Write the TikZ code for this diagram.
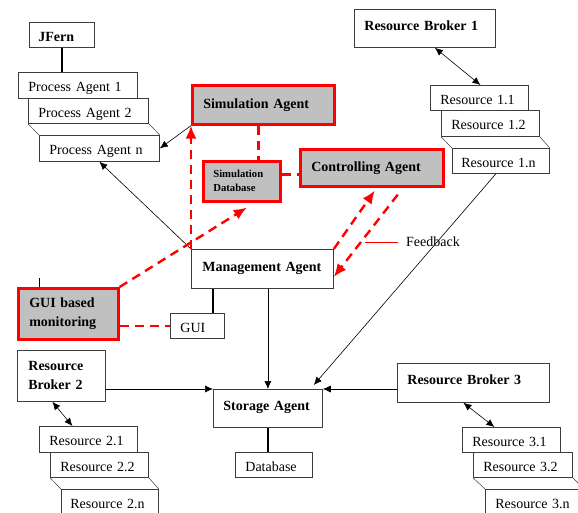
\documentclass[tikz,border=0pt]{standalone}
\usepackage{fontspec}
\setmainfont{Liberation Serif}
\usetikzlibrary{arrows.meta}
\definecolor{boxgray}{RGB}{192,192,192}
\definecolor{edgec}{RGB}{60,60,60}
\begin{document}
\begin{tikzpicture}[x=1pt,y=-1pt,
 bx/.style={draw=edgec, line width=0.8pt, anchor=north west, align=left, inner ysep=0pt, font=\fontsize{14}{16}\selectfont},
 low/.style={text height=15.5pt, text depth=3pt},
 up/.style={text height=9.5pt, text depth=6pt},
 bbx/.style={bx, font=\fontsize{14}{19}\selectfont\bfseries},
 rbx/.style={bbx, draw=red, fill=boxgray, line width=2.6pt},
 conn/.style={draw=black, line width=0.6pt},
 arr/.style={conn, -{Latex[length=8pt,width=7pt]}},
 darr/.style={conn, {Latex[length=8pt,width=7pt]}-{Latex[length=8pt,width=7pt]}},
 thk/.style={draw=black, line width=2.4pt},
 stackln/.style={draw=edgec, line width=0.5pt},
 rd/.style={draw=red, line width=2.4pt, dash pattern=on 9pt off 6pt},
 rarr/.style={rd, -{Latex[length=13pt,width=11pt]}},
]
\useasboundingbox (0,0) rectangle (578,512);
\clip (0,0) rectangle (578,512);
\fill[white] (0,0) rectangle (578,512);

% left column
\node[bbx, low, minimum width=65pt, minimum height=25pt, text width=47pt, inner xsep=9pt] (jfern) at (29,22) {JFern};
\node[bx, low, minimum width=119pt, minimum height=26pt, text width=99pt, inner xsep=10pt] (pa1) at (18,72) {Process Agent 1};
\node[bx, low, minimum width=120pt, minimum height=25pt, text width=100pt, inner xsep=10pt] (pa2) at (28,98) {Process Agent 2};
\node[bx, low, minimum width=120pt, minimum height=26pt, text width=100pt, inner xsep=10pt] (pan) at (39,135) {Process Agent n};

% red boxes
\node[rbx, minimum width=142pt, minimum height=39pt, text width=120pt, inner xsep=11pt] (simag) at (191,84) {Simulation Agent};
\node[rbx, minimum width=77pt, minimum height=40pt, text width=57pt, inner xsep=10pt, font=\fontsize{10.7}{14}\selectfont\bfseries] (simdb) at (202,160) {Simulation\\Database};
\node[rbx, minimum width=143pt, minimum height=37pt, text width=121pt, inner xsep=11pt] (ctrl) at (299,148) {Controlling Agent};
\node[rbx, minimum width=100pt, minimum height=51pt, text width=78pt, inner xsep=11pt] (guimon) at (17,287) {GUI based\\monitoring};

% centre
\node[bbx, minimum width=142pt, minimum height=39pt, text width=120pt, inner xsep=11pt, text height=9.5pt, text depth=4.5pt] (mgmt) at (191,249) {Management Agent};
\node[bx, low, minimum width=54pt, minimum height=25pt, text width=34pt, inner xsep=10pt] (gui) at (170,313) {GUI};
\node[bbx, up, minimum width=109pt, minimum height=38pt, text width=89pt, inner xsep=10pt] (storage) at (213,389) {Storage Agent};
\node[bx, low, minimum width=77pt, minimum height=25pt, text width=57pt, inner xsep=10pt] (db) at (235,452) {Database};

% resource group 1
\node[bbx, up, minimum width=141pt, minimum height=38pt, text width=121pt, inner xsep=10pt] (rb1) at (354,9) {Resource Broker 1};
\node[bx, low, minimum width=98pt, minimum height=25pt, text width=78pt, inner xsep=10pt] (r11) at (430,85) {Resource 1.1};
\node[bx, low, minimum width=98pt, minimum height=26pt, text width=78pt, inner xsep=10pt] (r12) at (441,110) {Resource 1.2};
\node[bx, low, minimum width=97pt, minimum height=25pt, text width=79pt, inner xsep=9pt] (r1n) at (452,148) {Resource 1.n};

% resource group 2
\node[bbx, minimum width=88pt, minimum height=51pt, text width=66pt, inner xsep=11pt] (rb2) at (17,350) {Resource\\Broker 2};
\node[bx, low, minimum width=98pt, minimum height=26pt, text width=78pt, inner xsep=10pt] (r21) at (39,426) {Resource 2.1};
\node[bx, low, minimum width=98pt, minimum height=25pt, text width=78pt, inner xsep=10pt] (r22) at (50,452) {Resource 2.2};
\node[bx, low, minimum width=97pt, minimum height=26pt, text width=79pt, inner xsep=9pt] (r2n) at (61,489) {Resource 2.n};

% resource group 3
\node[bbx, up, minimum width=152pt, minimum height=39pt, text width=132pt, inner xsep=10pt] (rb3) at (397,363) {Resource Broker 3};
\node[bx, low, minimum width=98pt, minimum height=25pt, text width=78pt, inner xsep=10pt] (r31) at (462,427) {Resource 3.1};
\node[bx, low, minimum width=99pt, minimum height=25pt, text width=79pt, inner xsep=10pt] (r32) at (473,452) {Resource 3.2};
\node[bx, low, minimum width=98pt, minimum height=26pt, text width=78pt, inner xsep=10pt] (r3n) at (485,489) {Resource 3.n};

% feedback label
\node[anchor=west, inner xsep=8pt, inner ysep=0pt, font=\fontsize{14}{16}\selectfont] (fb) at (398,242) {Feedback};
\coordinate (fbl) at (365,242);
\draw[red, line width=0.8pt] (fbl) -- (fb.west);

% stack edges
\draw[stackln] (pa2.south west) -- (pan.north west);
\draw[stackln] (pa2.south east) -- (pan.north east);
\draw[stackln] (r12.south west) -- (r1n.north west);
\draw[stackln] (r12.south east) -- (r1n.north east);
\draw[stackln] (r22.south west) -- (r2n.north west);
\draw[stackln] (r22.south east) -- (r2n.north east);
\draw[stackln] (r32.south west) -- (r3n.north west);
\draw[stackln] (r32.south east) -- (r3n.north east);

% black connectors
\draw[thk] (jfern.south) -- (jfern.south |- pa1.north);
\draw[arr] (simag.south west) -- (pan.east);
\draw[arr] (mgmt.north west) -- (pan.south);
\coordinate (g1) at (213,313);
\draw[thk] (g1) -- (g1 |- mgmt.south);
\draw[arr] (storage.north |- mgmt.south) -- (storage.north);
\draw[arr] ([xshift=-5pt]r1n.south) -- ([shift={(-9pt,4pt)}]storage.north east);
\draw[arr] (storage.north west -| rb2.east) -- (storage.north west);
\draw[arr] (storage.north east -| rb3.west) -- (storage.north east);
\draw[thk] (storage.south) -- (storage.south |- db.north);
\draw[darr] ([xshift=10pt]rb1.south) -- ([xshift=1pt]r11.north);
\draw[darr] ([xshift=-9pt]rb2.south) -- ([xshift=-16pt]r21.north);
\draw[darr] ([xshift=-10pt]rb3.south) -- ([xshift=-17pt]r31.north);
\coordinate (tick) at (39,278);
\draw[conn, line width=1pt] (tick) -- (tick |- guimon.north);

% red dashed connectors
\draw[rarr] (mgmt.north west) -- (simag.south west);
\draw[rd] ([xshift=-5pt]simag.south) -- ([xshift=-5pt]simag.south |- simdb.north);
\draw[rd] ([yshift=7pt]simdb.east) -- ([yshift=7pt]simdb.east -| ctrl.west);
\draw[rarr] (guimon.north east) -- ([shift={(5pt,-5pt)}]simdb.south);
\draw[rd] (guimon.east |- gui.west) -- (gui.west);
\draw[rarr] (mgmt.north east) -- ([shift={(3pt,-3pt)}]ctrl.south);
\draw[rarr] ([shift={(26pt,-7pt)}]ctrl.south) -- ([yshift=-8pt]mgmt.east);
\end{tikzpicture}
\end{document}
